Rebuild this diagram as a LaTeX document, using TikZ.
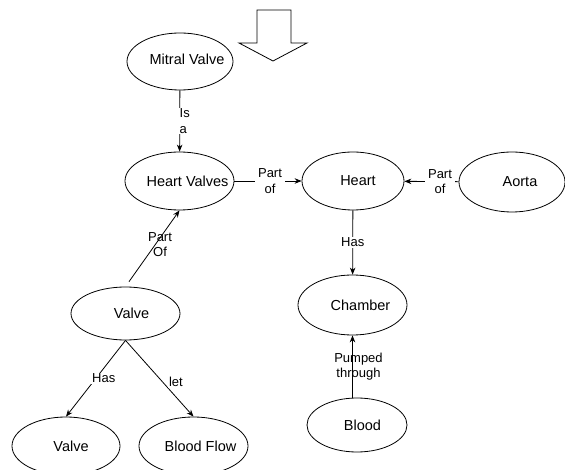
\documentclass[tikz,border=0pt]{standalone}
\usepackage{fontspec}
\setmainfont{Liberation Sans}
\usetikzlibrary{shapes.geometric,arrows.meta}
\begin{document}
\begin{tikzpicture}[x=1pt,y=-1pt,
  concept/.style={draw,ellipse,line width=0.8pt,inner sep=0pt},
  ctext/.style={font=\fontsize{14.5}{17}\selectfont,inner sep=0pt},
  link/.style={draw,line width=0.8pt,-{Stealth[length=7pt,width=5.5pt]}},
  lab/.style={font=\fontsize{13}{15.5}\selectfont,align=center,inner sep=1pt,fill=white},
  labclear/.style={lab,fill=none}]
\useasboundingbox (0,0) rectangle (565,470);
\clip (0,0) rectangle (565,470);

% concept ellipses
\node[concept,minimum width=106pt,minimum height=57pt] (mv) at (180,61.5) {};
\node[concept,minimum width=109pt,minimum height=58pt] (hv) at (179.5,181) {};
\node[concept,minimum width=102pt,minimum height=58pt] (heart) at (353,181) {};
\node[concept,minimum width=106pt,minimum height=60pt] (aorta) at (512,182) {};
\node[concept,minimum width=109pt,minimum height=60pt] (chamber) at (352.5,305) {};
\node[concept,minimum width=100pt,minimum height=54pt] (blood) at (357,425) {};
\node[concept,minimum width=109pt,minimum height=53pt] (valve) at (125.5,313.5) {};
\node[concept,minimum width=108pt,minimum height=58pt] (valvetwo) at (66,446) {};
\node[concept,minimum width=109pt,minimum height=58pt] (flow) at (193.5,446) {};

% concept names
\node[ctext] at ([xshift=7pt,yshift=2pt]mv.center) {Mitral Valve};
\node[ctext] at ([xshift=8pt]hv.center) {Heart Valves};
\node[ctext] at ([xshift=5pt]heart.center) {Heart};
\node[ctext] at ([xshift=8pt]aorta.center) {Aorta};
\node[ctext] at ([xshift=8pt]chamber.center) {Chamber};
\node[ctext] at ([xshift=5.5pt]blood.center) {Blood};
\node[ctext] at ([xshift=6pt]valve.center) {Valve};
\node[ctext] at ([xshift=5pt]valvetwo.center) {Valve};
\node[ctext] at ([xshift=7pt]flow.center) {Blood Flow};

% block arrow
\draw[line width=0.8pt] (257,10) -- (291,10) -- (291,43) -- (307,43)
  -- (273,61) -- (239,43) -- (257,43) -- cycle;

% relations
\draw[link] (mv) -- node[lab,align=left,anchor=west,inner sep=0.5pt,xshift=-1pt]{Is\\a} (hv);
\draw[link] (hv) -- node[lab,inner xsep=3pt,xshift=2pt]{Part\\of} (heart);
\draw[link] (aorta) -- node[lab,inner xsep=3pt,xshift=8.5pt]{Part\\of} (heart);
\draw[link] (heart) -- node[lab]{Has} (chamber);
\draw[link] (chamber.south |- blood.north) -- node[labclear,xshift=6pt]{Pumped\\through} (chamber.south);
\draw[link,shorten <=6pt] (valve.north) -- node[labclear,xshift=7.5pt,yshift=4pt]{Part\\Of} (hv.south);
\draw[link] (valve.south) -- node[lab,xshift=8pt]{Has} (valvetwo.north);
\draw[link] (valve.south) -- node[lab,pos=0.55,xshift=13pt]{let} (flow.north);
\end{tikzpicture}
\end{document}
